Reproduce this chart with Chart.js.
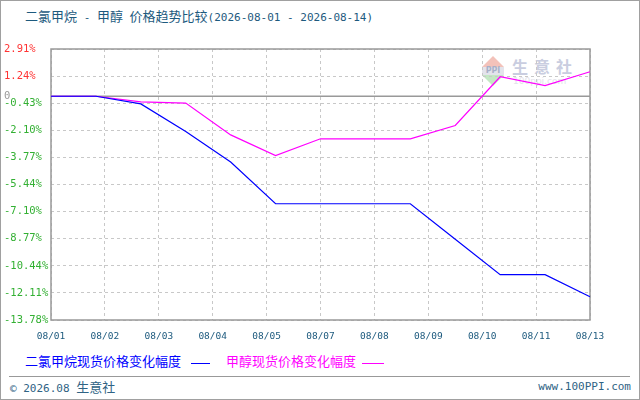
<!DOCTYPE html>
<html>
<head>
<meta charset="utf-8">
<title>二氯甲烷 - 甲醇 价格趋势比较</title>
<script src="https://cdn.jsdelivr.net/npm/chart.js@4.4.1/dist/chart.umd.min.js"></script>
<style>
    html, body { margin: 0; padding: 0; background: #fff; }
    #wrap {
        position: relative; width: 640px; height: 400px; box-sizing: border-box;
        border: 1px solid #a0a0a0; overflow: hidden;
        font-family: "DejaVu Sans Mono", "Noto Sans CJK SC", monospace; font-size: 11px;
    }
    #wrap canvas { position: absolute; left: -1px; top: -1px; z-index: 2; }
    .cjk { font-family: "Noto Sans CJK SC", sans-serif; font-size: 13px; }
    #title { position: absolute; left: 24px; top: 6px; line-height: 18px; color: #1d5a7e; white-space: pre; }
    #legend { position: absolute; left: 24px; top: 351px; line-height: 18px; white-space: nowrap; }
    #legend .ln { display: inline-block; width: 19px; height: 0; vertical-align: middle; }
    #sep { position: absolute; left: 8px; top: 375px; width: 621px; height: 0; border-top: 1px solid #999; }
    #copy { position: absolute; left: 9px; top: 377px; line-height: 18px; color: #2f6384; white-space: pre; }
    #site { position: absolute; right: 8px; top: 377px; line-height: 18px; color: #2f6384; }
    /* watermark */
    #mark { position: absolute; left: 480px; top: 54px; width: 100px; height: 34px; z-index: 1; }
    #mark .up { position: absolute; left: 1px; top: 1px; width: 0; height: 0;
        border-left: 11px solid transparent; border-right: 11px solid transparent; border-bottom: 11px solid #f3c2ba; }
    #mark .band { position: absolute; left: 1px; top: 12px; width: 22px; height: 8px; background: #e4e4ec;
        font: bold 8px "DejaVu Sans", sans-serif; line-height: 8px; color: #a8b0c8; text-align: center; }
    #mark .down { position: absolute; left: 1px; top: 20px; width: 0; height: 0;
        border-left: 11px solid transparent; border-right: 11px solid transparent; border-top: 11px solid #c4e8c4; }
    #mark .name { position: absolute; left: 31px; top: 1px; font: bold 16px "Noto Sans CJK SC", sans-serif;
        letter-spacing: 6px; color: #c9cde0; line-height: 20px; }
    #mark .url { position: absolute; left: 32px; top: 21px; font: 9px "DejaVu Sans", sans-serif; color: #e2e2ea; }
</style>
</head>
<body>
<div id="wrap">
    <div id="title"><span class="cjk">二氯甲烷</span> - <span class="cjk">甲醇</span> <span class="cjk">价格趋势比较</span>(2026-08-01 - 2026-08-14)</div>
    <div id="mark">
        <div class="up"></div><div class="band">PPI</div><div class="down"></div>
        <div class="name">生意社</div><div class="url">100ppi.com</div>
    </div>
    <canvas id="priceChart" width="640" height="400"></canvas>
    <div id="legend">
        <span class="cjk" style="color:#0000ff">二氯甲烷现货价格变化幅度</span><span class="ln" style="margin-left:10px;border-top:1.5px solid #0000ff"></span><span class="cjk" style="color:#ff00ff;margin-left:16px">甲醇现货价格变化幅度</span><span class="ln" style="margin-left:6px;width:22px;border-top:1.5px solid #ff00ff"></span>
    </div>
    <div id="sep"></div>
    <div id="copy">© 2026.08 <span class="cjk">生意社</span></div>
    <div id="site">www.100PPI.com</div>
</div>

<script>
// daily points, % change against 08/01
var dates = ['08/01', '08/02', '08/03', '08/04', '08/05', '08/06', '08/07',
             '08/08', '08/09', '08/10', '08/11', '08/12', '08/13'];
var dcmChange = [0, 0, -0.47, -2.17, -4.05, -6.62, -6.62, -6.62, -6.62, -8.81, -10.99, -10.99, -12.35];
var methanolChange = [0, 0, -0.35, -0.42, -2.38, -3.65, -2.62, -2.62, -2.62, -1.80, 1.20, 0.65, 1.51];

// axis labels as printed on the chart
var xTickLabels = ['08/01', '08/02', '08/03', '08/04', '08/05', '08/07',
                   '08/08', '08/09', '08/10', '08/11', '08/13'];
var yTicks = [2.91, 1.24, 0, -0.43, -2.10, -3.77, -5.44, -7.10, -8.77, -10.44, -12.11, -13.78];

var gridColor = '#c8c8c8';

var framePlugin = {
    id: 'frame',
    beforeDatasetsDraw: function (chart) {
        var ctx = chart.ctx;
        var a = chart.chartArea;
        var y0 = chart.scales.y.getPixelForValue(0);
        ctx.save();
        ctx.strokeStyle = '#999';
        ctx.lineWidth = 1.5;
        ctx.beginPath();
        ctx.moveTo(a.left, y0);
        ctx.lineTo(a.right, y0);
        ctx.stroke();
        ctx.strokeRect(a.left, a.top, a.right - a.left, a.bottom - a.top);
        ctx.restore();
    }
};

var ctx = document.getElementById('priceChart');
var priceChart = new Chart(ctx, {
    type: 'line',
    data: {
        labels: dates,
        datasets: [{
            label: '二氯甲烷现货价格变化幅度',
            data: dcmChange,
            borderColor: '#0000ff',
            borderWidth: 1.2,
            pointRadius: 0,
            tension: 0
        }, {
            label: '甲醇现货价格变化幅度',
            data: methanolChange,
            borderColor: '#ff00ff',
            borderWidth: 1.2,
            pointRadius: 0,
            tension: 0
        }]
    },
    options: {
        responsive: false,
        animation: false,
        layout: { padding: { left: 4, right: 50, top: 49, bottom: 0 } },
        plugins: {
            legend: { display: false },
            tooltip: { enabled: false }
        },
        scales: {
            x: {
                type: 'category',
                display: false,
                offset: false
            },
            x2: {
                type: 'category',
                position: 'bottom',
                labels: xTickLabels,
                offset: false,
                grid: { color: gridColor, drawTicks: false },
                border: { display: false, dash: [3, 3] },
                ticks: {
                    autoSkip: false,
                    maxRotation: 0,
                    padding: 11,
                    color: '#1d5a7e',
                    font: { family: 'DejaVu Sans Mono', size: 9.5 }
                },
                afterFit: function (scale) { scale.height = 80; }
            },
            y: {
                type: 'linear',
                min: -13.78,
                max: 2.91,
                afterBuildTicks: function (scale) {
                    scale.ticks = yTicks.map(function (v) { return { value: v }; });
                },
                afterFit: function (scale) { scale.width = 47; },
                grid: {
                    drawTicks: false,
                    color: function (c) { return c.tick && c.tick.value === 0 ? 'rgba(0,0,0,0)' : gridColor; }
                },
                border: { display: false, dash: [3, 3] },
                ticks: {
                    autoSkip: false,
                    crossAlign: 'far',
                    padding: 4,
                    font: { family: 'DejaVu Sans Mono', size: 10.5 },
                    color: function (c) {
                        var v = c.tick.value;
                        if (v > 0) return '#ff3333';
                        if (v < 0) return '#33b033';
                        return '#999999';
                    },
                    callback: function (value) {
                        return value === 0 ? '0' : value.toFixed(2) + '%';
                    }
                }
            }
        }
    },
    plugins: [framePlugin]
});
</script>
</body>
</html>
